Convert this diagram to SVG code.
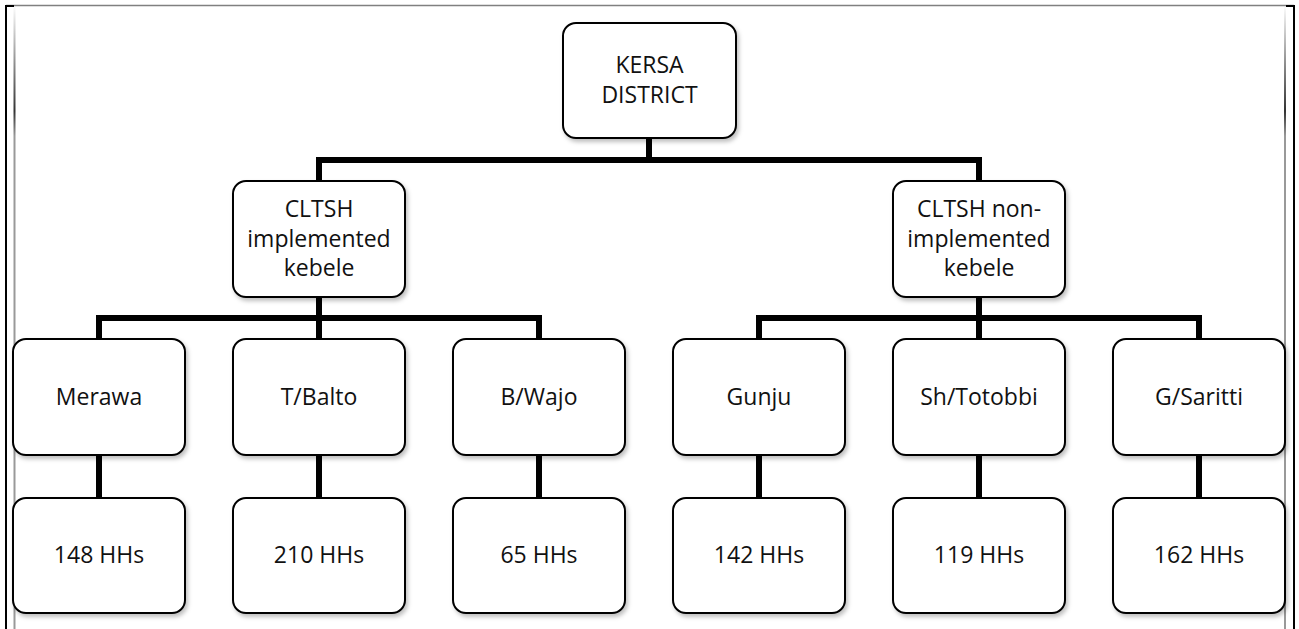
<svg xmlns="http://www.w3.org/2000/svg" width="1299" height="629" viewBox="0 0 1299 629">
  <style>
    .box { fill: #ffffff; stroke: #000000; stroke-width: 2; filter: url(#shadow); }
    .lbl { font-family: "Open Sans", "Liberation Sans", sans-serif; font-size: 23px; fill: #111111; text-anchor: middle; }
    .conn { fill: none; stroke: #000000; stroke-width: 6; stroke-linejoin: miter; }
  </style>
  <defs>
    <filter id="shadow" x="-10%" y="-10%" width="125%" height="130%">
      <feDropShadow dx="2" dy="3" stdDeviation="2" flood-color="#000000" flood-opacity="0.25"/>
    </filter>
    <linearGradient id="edge" gradientUnits="userSpaceOnUse" x1="0" y1="5" x2="0" y2="629">
      <stop offset="0" stop-color="#ffffff"/>
      <stop offset="0.17" stop-color="#333333"/>
      <stop offset="0.21" stop-color="#999999"/>
      <stop offset="1" stop-color="#999999"/>
    </linearGradient>
  </defs>

  <g id="page-border">
    <rect x="0" y="0" width="1299" height="629" fill="#ffffff"/>
    <line x1="6" y1="5.5" x2="1294" y2="5.5" stroke="#808080" stroke-width="1.5"/>
    <line x1="5" y1="6" x2="14" y2="6" stroke="#000000" stroke-width="2"/>
    <line x1="1286" y1="6" x2="1295" y2="6" stroke="#000000" stroke-width="2"/>
    <line x1="6" y1="5" x2="6" y2="629" stroke="#000000" stroke-width="2"/>
    <line x1="1294" y1="5" x2="1294" y2="629" stroke="#000000" stroke-width="2"/>
    <line x1="14.5" y1="7" x2="14.5" y2="629" stroke="url(#edge)" stroke-width="2"/>
    <line x1="1285" y1="7" x2="1285" y2="629" stroke="url(#edge)" stroke-width="2"/>
  </g>

  <g id="connectors">
    <path class="conn" d="M649,138 V160"/>
    <path class="conn" d="M319,181 V160 H979 V181"/>
    <path class="conn" d="M319,297 V339"/>
    <path class="conn" d="M99,339 V318 H539 V339"/>
    <path class="conn" d="M979,297 V339"/>
    <path class="conn" d="M759,339 V318 H1199 V339"/>
    <path class="conn" d="M99,455 V498"/>
    <path class="conn" d="M319,455 V498"/>
    <path class="conn" d="M539,455 V498"/>
    <path class="conn" d="M759,455 V498"/>
    <path class="conn" d="M979,455 V498"/>
    <path class="conn" d="M1199,455 V498"/>
  </g>

  <g id="kersa">
    <rect class="box" x="563" y="23" width="173" height="115" rx="13"/>
    <text class="lbl" x="649.5" y="73">KERSA</text>
    <text class="lbl" x="649.5" y="103">DISTRICT</text>
  </g>

  <g id="cltsh-implemented">
    <rect class="box" x="233" y="181" width="172" height="116" rx="13"/>
    <text class="lbl" x="319" y="217">CLTSH</text>
    <text class="lbl" x="319" y="246.5">implemented</text>
    <text class="lbl" x="319" y="276">kebele</text>
  </g>

  <g id="cltsh-non-implemented">
    <rect class="box" x="893" y="181" width="172" height="116" rx="13"/>
    <text class="lbl" x="979" y="217">CLTSH non-</text>
    <text class="lbl" x="979" y="246.5">implemented</text>
    <text class="lbl" x="979" y="276">kebele</text>
  </g>

  <g id="merawa">
    <rect class="box" x="13" y="339" width="172" height="116" rx="13"/>
    <text class="lbl" x="99" y="405">Merawa</text>
  </g>
  <g id="tbalto">
    <rect class="box" x="233" y="339" width="172" height="116" rx="13"/>
    <text class="lbl" x="319" y="405">T/Balto</text>
  </g>
  <g id="bwajo">
    <rect class="box" x="453" y="339" width="172" height="116" rx="13"/>
    <text class="lbl" x="539" y="405">B/Wajo</text>
  </g>
  <g id="gunju">
    <rect class="box" x="673" y="339" width="172" height="116" rx="13"/>
    <text class="lbl" x="759" y="405">Gunju</text>
  </g>
  <g id="shtotobbi">
    <rect class="box" x="893" y="339" width="172" height="116" rx="13"/>
    <text class="lbl" x="979" y="405">Sh/Totobbi</text>
  </g>
  <g id="gsaritti">
    <rect class="box" x="1113" y="339" width="172" height="116" rx="13"/>
    <text class="lbl" x="1199" y="405">G/Saritti</text>
  </g>

  <g id="hh-merawa">
    <rect class="box" x="13" y="498" width="172" height="115" rx="13"/>
    <text class="lbl" x="99" y="563">148 HHs</text>
  </g>
  <g id="hh-tbalto">
    <rect class="box" x="233" y="498" width="172" height="115" rx="13"/>
    <text class="lbl" x="319" y="563">210 HHs</text>
  </g>
  <g id="hh-bwajo">
    <rect class="box" x="453" y="498" width="172" height="115" rx="13"/>
    <text class="lbl" x="539" y="563">65 HHs</text>
  </g>
  <g id="hh-gunju">
    <rect class="box" x="673" y="498" width="172" height="115" rx="13"/>
    <text class="lbl" x="759" y="563">142 HHs</text>
  </g>
  <g id="hh-shtotobbi">
    <rect class="box" x="893" y="498" width="172" height="115" rx="13"/>
    <text class="lbl" x="979" y="563">119 HHs</text>
  </g>
  <g id="hh-gsaritti">
    <rect class="box" x="1113" y="498" width="172" height="115" rx="13"/>
    <text class="lbl" x="1199" y="563">162 HHs</text>
  </g>
</svg>
